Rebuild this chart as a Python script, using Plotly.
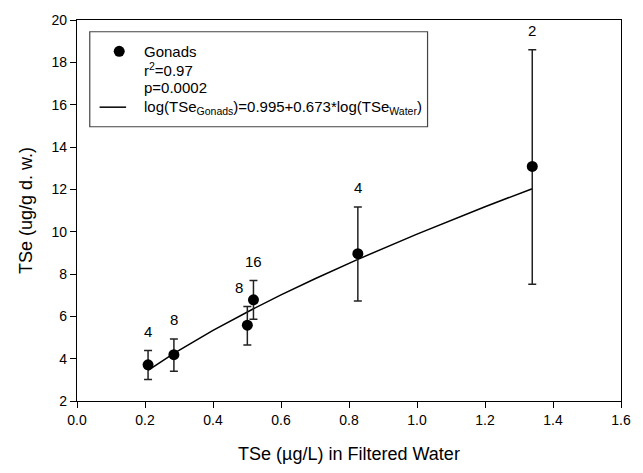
import plotly.graph_objects as go

# ---- data ----
water_tse = [0.209, 0.285, 0.501, 0.519, 0.826, 1.339]
gonad_tse = [3.71, 4.19, 5.58, 6.78, 8.96, 13.08]
err_plus = [0.67, 0.74, 0.88, 0.91, 2.21, 5.52]
err_minus = [0.69, 0.79, 0.93, 0.92, 2.24, 5.56]
n_labels = ["4", "8", "8", "16", "4", "2"]

# fitted curve, log(TSe_Gonads)=0.995+0.673*log(TSe_Water), read at these x
fit_x = [0.209, 0.285, 0.4, 0.501, 0.519, 0.6, 0.7, 0.826, 1.0, 1.2, 1.339]
fit_y = [3.446, 4.248, 5.336, 6.209, 6.358, 7.012, 7.778, 8.693, 9.886, 11.18, 12.03]

x_ticks = [0.0, 0.2, 0.4, 0.6, 0.8, 1.0, 1.2, 1.4, 1.6]
y_ticks = [2, 4, 6, 8, 10, 12, 14, 16, 18, 20]

FONT = "Liberation Sans, Arial, sans-serif"
W, H = 643, 473
ML, MR, MT, MB = 77, 12, 17, 67
PW, PH = W - ML - MR, H - MT - MB


def px(x):
    return (x - ML) / PW


def py(y):
    return (H - MB - y) / PH


fig = go.Figure()

fig.add_trace(go.Scatter(
    x=fit_x, y=fit_y, mode="lines",
    line=dict(color="black", width=1.5), showlegend=False, hoverinfo="skip"))

fig.add_trace(go.Scatter(
    x=water_tse, y=gonad_tse, mode="markers",
    marker=dict(color="black", size=11),
    error_y=dict(type="data", symmetric=False, array=err_plus, arrayminus=err_minus,
                 color="#222222", thickness=1.5, width=4),
    showlegend=False))

# n labels above the error bars
xshifts = [0, 0, -8, 0, 0, 0]
for xv, yv, ep, lab, xs in zip(water_tse, gonad_tse, err_plus, n_labels, xshifts):
    fig.add_annotation(x=xv, y=yv + ep, text=lab, showarrow=False,
                       yanchor="bottom", yshift=9, xshift=xs,
                       font=dict(family=FONT, size=15, color="black"))

# legend box drawn manually
fig.add_shape(type="rect", xref="paper", yref="paper",
              x0=px(90), x1=px(434), y0=py(126), y1=py(29),
              line=dict(color="#444444", width=1.2), fillcolor="white")
fig.add_shape(type="circle", xref="paper", yref="paper",
              xsizemode="pixel", ysizemode="pixel",
              xanchor=px(120), yanchor=py(49),
              x0=-5.5, x1=5.5, y0=-5.5, y1=5.5,
              fillcolor="black", line=dict(color="black", width=0))
fig.add_shape(type="line", xref="paper", yref="paper",
              x0=px(100), x1=px(127), y0=py(106), y1=py(106),
              line=dict(color="black", width=1.5))

legend_lines = [
    ("Gonads", 49),
    ("r<sup>2</sup>=0.97", 68),
    ("p=0.0002", 86),
    ("log(TSe<sub>Gonads</sub>)=0.995+0.673*log(TSe<sub>Water</sub>)", 106),
]
for txt, yy in legend_lines:
    fig.add_annotation(xref="paper", yref="paper", x=px(143), y=py(yy),
                       text=txt, showarrow=False, xanchor="left", yanchor="middle",
                       font=dict(family=FONT, size=15, color="black"))

fig.update_layout(
    width=W, height=H,
    margin=dict(l=ML, r=MR, t=MT, b=MB),
    paper_bgcolor="white", plot_bgcolor="white",
    font=dict(family=FONT, size=13, color="black"),
    xaxis=dict(range=[0, 1.6], tickvals=x_ticks,
               ticktext=[f"{v:.1f}" for v in x_ticks],
               showgrid=False, zeroline=False, showline=True, mirror=True,
               linecolor="black", linewidth=1.3,
               ticks="outside", ticklen=6, tickwidth=1.3, tickcolor="black",
               tickfont=dict(family=FONT, size=14),
               title=dict(text="TSe (\u00b5g/L) in Filtered Water",
                          font=dict(family=FONT, size=18), standoff=20)),
    yaxis=dict(range=[2, 20], tickvals=y_ticks,
               showgrid=False, zeroline=False, showline=True, mirror=True,
               linecolor="black", linewidth=1.3,
               ticks="outside", ticklen=6, tickwidth=1.3, tickcolor="black",
               tickfont=dict(family=FONT, size=14),
               title=dict(text="TSe (ug/g d. w.)",
                          font=dict(family=FONT, size=18), standoff=14)),
)

fig.write_html("out.html")
